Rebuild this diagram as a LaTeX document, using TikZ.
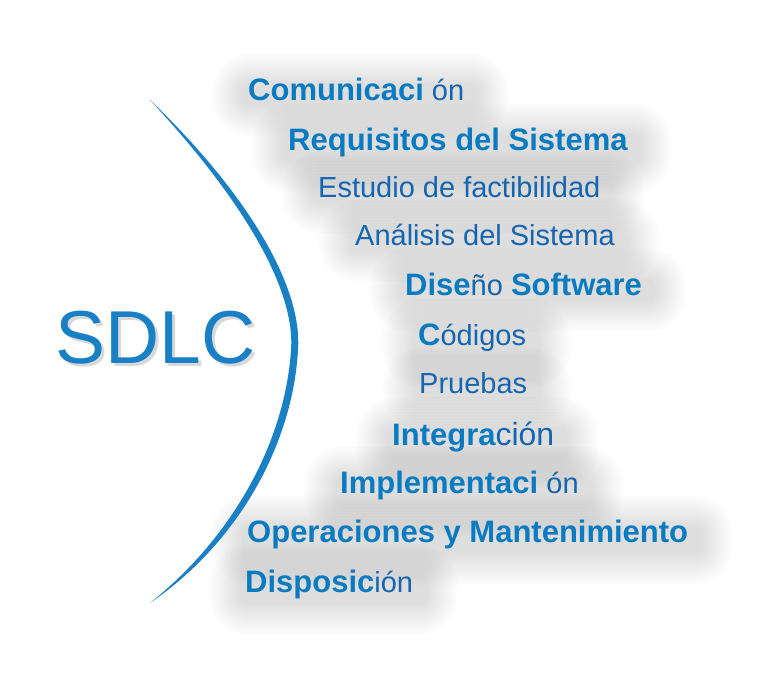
\documentclass[tikz,border=0pt]{standalone}
\usepackage{fontspec}
\setmainfont{Liberation Sans}
\usetikzlibrary{backgrounds}
\definecolor{sdlcblue}{HTML}{1A80C6}
\definecolor{boldblue}{HTML}{0B7BC1}
\definecolor{plainblue}{HTML}{1565B1}
\newcommand{\fuerte}[1]{{\fontsize{31}{36}\bfseries\color{boldblue}#1}}
\begin{document}
\begin{tikzpicture}[x=1pt,y=-1pt,
		fase/.style={anchor=base west, inner sep=0pt, text=plainblue,
			font=\fontsize{29}{34}\selectfont},
		titulo/.style={anchor=base west, inner sep=0pt, font=\fontsize{75}{80}\selectfont},
		halo/.style={fill=black, opacity=0.011}]
		\useasboundingbox (0,0) rectangle (768,678);
		% arco
		\fill [sdlcblue] (150,100) .. controls (237,183) and (303,280) .. (298,350)
			.. controls (293,440) and (242,540) .. (150,603)
			.. controls (235,535) and (285,440) .. (291,350)
			.. controls (296,283) and (232,188) .. cycle;
		% titulo con sombra
		\node [titulo, text=black, opacity=0.15] at (58,366) {SDLC};
		\node [titulo, text=sdlcblue] (sdlc) at (55,363) {SDLC};
		% fases
		\node [fase] (comunicacion) at (248,100) {\fuerte{Comunicaci} ón};
		\node [fase] (requisitos) at (288,150) {\fuerte{Requisitos del Sistema}};
		\node [fase] (estudio) at (318,197) {Estudio de factibilidad};
		\node [fase] (analisis) at (355,245) {Análisis del Sistema};
		\node [fase] (diseno) at (405,295) {\fuerte{Dise}ño \fuerte{Software}};
		\node [fase] (codigos) at (418,345) {\fuerte{C}ódigos};
		\node [fase] (pruebas) at (419,393) {Pruebas};
		\node [fase] (integracion) at (392,445) {\fuerte{Integra}{\fontsize{32}{36}\selectfont ción}};
		\node [fase] (implementacion) at (340,493) {\fuerte{Implementaci} ón};
		\node [fase] (operaciones) at (247,542) {\fuerte{Operaciones y Mantenimiento}};
		\node [fase] (disposicion) at (245,592) {\fuerte{Disposic}ión};
		% sombras difusas
		\begin{pgfonlayer}{background}
			\fill [white] (0,0) rectangle (768,678);
			\foreach \n in {comunicacion,requisitos,estudio,analisis,diseno,codigos,pruebas,integracion,implementacion,operaciones,disposicion}
				\foreach \r in {0,3,...,30}
					\fill [halo, rounded corners=\r pt+8pt]
						([xshift=-\r pt-6pt, yshift=-\r pt-6pt]\n.south west)
						rectangle ([xshift=\r pt+14pt, yshift=\r pt-6pt]\n.north east);
		\end{pgfonlayer}
	\end{tikzpicture}
\end{document}
